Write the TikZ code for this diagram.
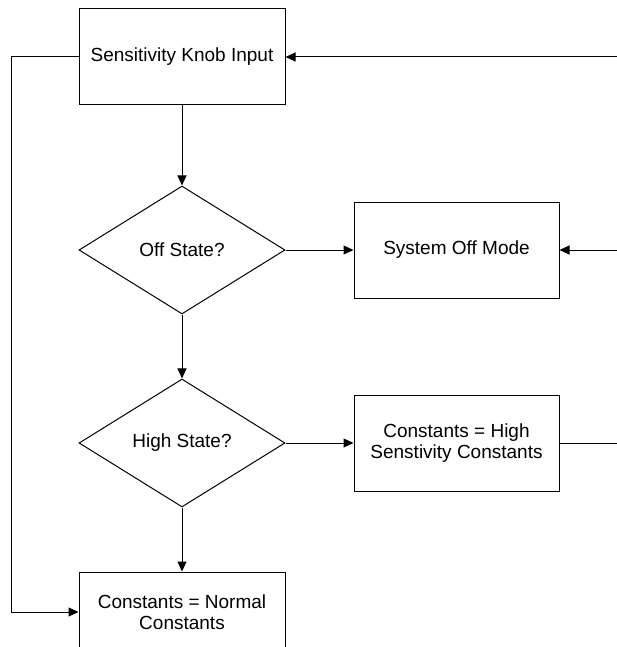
\documentclass[tikz,border=0pt]{standalone}
\usepackage{fontspec}
\setmainfont{Liberation Sans}
\usetikzlibrary{shapes.geometric,arrows.meta}
\begin{document}
\begin{tikzpicture}[x=1pt,y=-1pt,
  every node/.style={font=\fontsize{19}{21.5}\selectfont, align=center, inner sep=0pt},
  procbox/.style={draw, line width=1pt, minimum width=206pt, minimum height=96pt},
  decision/.style={draw, diamond, line width=1pt, minimum width=206pt, minimum height=128pt},
  conn/.style={line width=1pt},
  flow/.style={conn, -{Triangle[length=10pt,width=9pt]}}]
\useasboundingbox (0,0) rectangle (617,647);
\clip (0,0) rectangle (617,647);

% process boxes and decisions
\node[procbox] (knob) at (182,57) {Sensitivity Knob Input};
\node[decision] (off) at (182,250) {Off State?};
\node[procbox, minimum width=205pt] (sysoff) at (456.5,250) {System Off Mode};
\node[decision] (high) at (182,443) {High State?};
\node[procbox, minimum width=205pt] (highc) at (456.5,443) {Constants = High\\Senstivity Constants};
\node[procbox, minimum height=80pt] (normal) at (182,612) {Constants = Normal\\Constants};

% free ends at the right margin and the left return path
\coordinate (inknob) at (617,57);
\coordinate (insys) at (617,250);
\coordinate (outhigh) at (617,443);
\coordinate (lefttop) at (11,57);
\coordinate (leftbot) at (11,612);

% connectors
\draw[flow] (knob) -- (off);
\draw[flow] (off) -- (sysoff);
\draw[flow] (off) -- (high);
\draw[flow] (high) -- (highc);
\draw[flow] (high) -- (normal);
\draw[flow] (inknob) -- (knob);
\draw[flow] (insys) -- (sysoff);
\draw[conn] (highc) -- (outhigh);
\draw[flow] (knob.west) -- (lefttop) -- (leftbot) -- (normal.west);
\end{tikzpicture}
\end{document}
